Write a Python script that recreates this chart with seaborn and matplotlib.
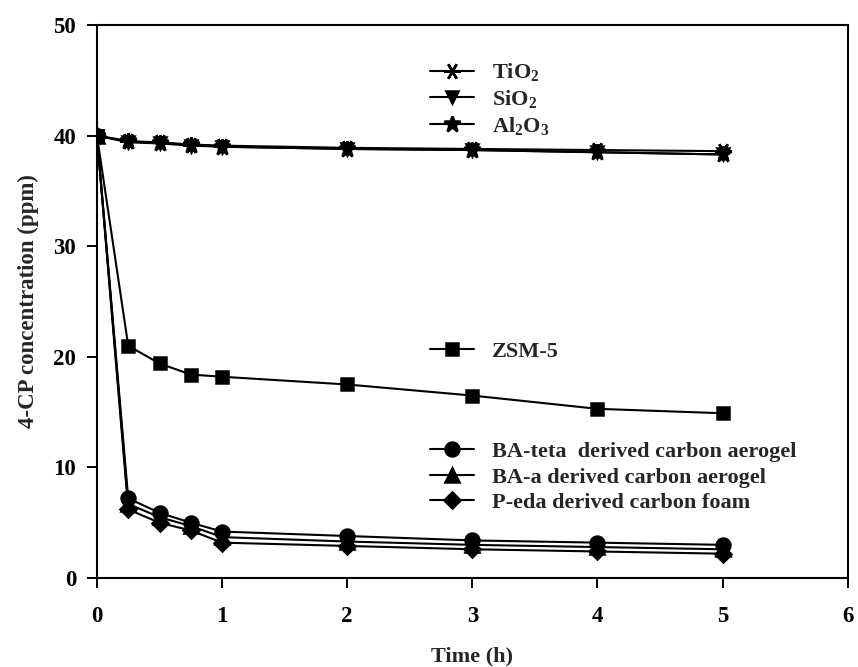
import matplotlib
matplotlib.use("Agg")
import matplotlib.pyplot as plt
import seaborn as sns
import pandas as pd

time_h = [0, 0.25, 0.5, 0.75, 1, 2, 3, 4, 5]

tio2 = [40, 39.5, 39.4, 39.2, 39.1, 38.9, 38.8, 38.7, 38.6]
sio2 = [40, 39.4, 39.3, 39.1, 39.0, 38.8, 38.7, 38.5, 38.3]
al2o3 = [40, 39.5, 39.3, 39.2, 39.0, 38.8, 38.7, 38.5, 38.3]
zsm5 = [40, 21.0, 19.4, 18.4, 18.2, 17.5, 16.5, 15.3, 14.9]
ba_teta = [40, 7.2, 5.9, 5.0, 4.2, 3.8, 3.4, 3.2, 3.0]
ba_a = [40, 6.7, 5.5, 4.7, 3.7, 3.3, 3.0, 2.8, 2.6]
p_eda = [40, 6.2, 5.0, 4.3, 3.2, 2.9, 2.6, 2.4, 2.2]

labels_inorg = [r"TiO$_\mathbf{2}$", r"SiO$_\mathbf{2}$", r"Al$_\mathbf{2}$O$_\mathbf{3}$"]
label_zsm = "ZSM-5"
labels_carbon = ["BA-teta  derived carbon aerogel", "BA-a derived carbon aerogel",
                 "P-eda derived carbon foam"]

x_ticks = [0, 1, 2, 3, 4, 5, 6]
y_ticks = [0, 10, 20, 30, 40, 50]

sns.set_style("ticks")
plt.rcParams["font.family"] = ["Liberation Serif", "DejaVu Serif"]
plt.rcParams["font.weight"] = "bold"
plt.rcParams["mathtext.fontset"] = "custom"
plt.rcParams["mathtext.rm"] = "Liberation Serif:bold"
plt.rcParams["mathtext.bf"] = "Liberation Serif:bold"
plt.rcParams["mathtext.it"] = "Liberation Serif:bold"
plt.rcParams["mathtext.default"] = "bf"

fig = plt.figure(figsize=(8.58, 6.67), dpi=100)
ax = fig.add_axes([0.113, 0.1334, 0.875, 0.829])

series = [
    (tio2, labels_inorg[0], (6, 2, 90), 12),
    (sio2, labels_inorg[1], "v", 9),
    (al2o3, labels_inorg[2], "*", 12),
    (zsm5, label_zsm, "s", 9),
    (ba_teta, labels_carbon[0], "o", 10),
    (ba_a, labels_carbon[1], "^", 10),
    (p_eda, labels_carbon[2], "D", 8),
]

handles = []
for vals, lab, mk, ms in series:
    df = pd.DataFrame({"t": time_h, "c": vals})
    sns.lineplot(data=df, x="t", y="c", ax=ax, color="black", marker=mk,
                 markersize=ms, markeredgewidth=1.8, markeredgecolor="black",
                 linewidth=1.5, label=lab, legend=False)
    handles.append(ax.get_lines()[-1])

ax.set_xlim(0, 6)
ax.set_ylim(0, 50)
ax.set_xticks(x_ticks)
ax.set_yticks(y_ticks)
ax.tick_params(axis="both", direction="out", length=7, width=1.4,
               labelsize=16.5, colors="black")
ax.tick_params(axis="x", pad=13)
ax.tick_params(axis="y", pad=8)
for lbl in ax.get_xticklabels() + ax.get_yticklabels():
    lbl.set_fontweight("bold")
for sp in ax.spines.values():
    sp.set_visible(True)
    sp.set_linewidth(1.5)
    sp.set_color("black")

ax.set_xlabel("Time (h)", fontsize=16, fontweight="bold", labelpad=14)
ax.set_ylabel("4-CP concentration (ppm)", fontsize=16.5, fontweight="bold", labelpad=10)

leg_kw = dict(frameon=False, loc="center left", bbox_transform=ax.transData,
              borderpad=0, borderaxespad=0, handlelength=2.0, handletextpad=0.8,
              labelspacing=0.22, prop={"family": "Liberation Serif", "weight": "bold", "size": 16})

leg1 = ax.legend(handles=handles[0:3], bbox_to_anchor=(2.66, 43.3), **leg_kw)
ax.add_artist(leg1)
leg2 = ax.legend(handles=handles[3:4], bbox_to_anchor=(2.66, 20.5), **leg_kw)
ax.add_artist(leg2)
leg3 = ax.legend(handles=handles[4:7], bbox_to_anchor=(2.66, 9.1), **leg_kw)

fig.savefig("out.png", dpi=100, facecolor="white")
